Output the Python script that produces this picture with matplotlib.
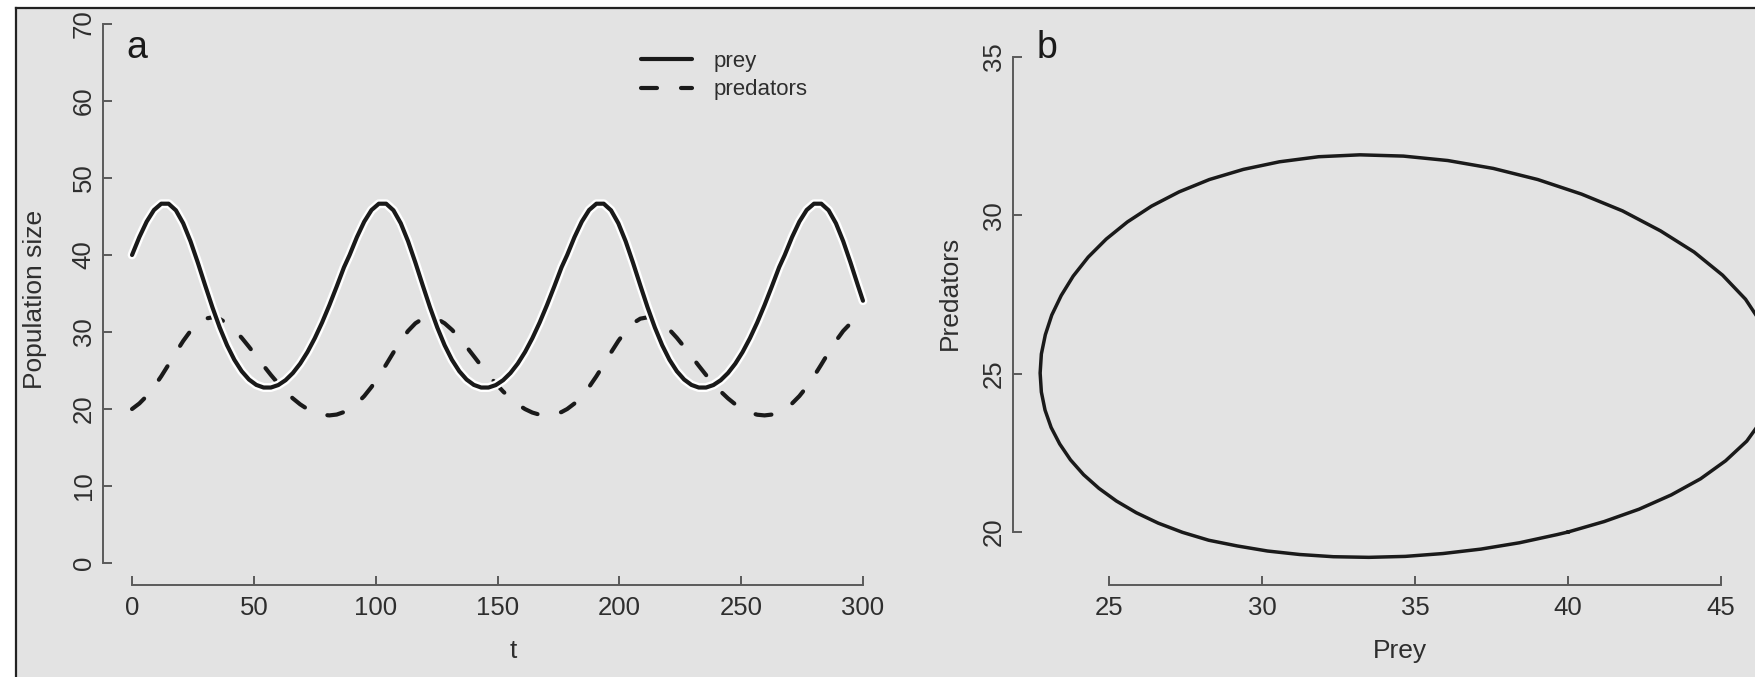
import matplotlib
matplotlib.use("Agg")
import matplotlib.pyplot as plt
import matplotlib.patheffects as pe
from matplotlib.lines import Line2D
from matplotlib.patches import Rectangle

plt.rcParams['font.family'] = ['Liberation Sans', 'DejaVu Sans']
plt.rcParams['lines.scale_dashes'] = False

W, H = 1755, 677
BG = '#e3e3e3'
INK = '#1a1a1a'
AXC = '#5a5a5a'
TXT = '#2e2e2e'

# panel a: time points (about 30 samples per cycle)
t = [0, 3, 6, 9, 12, 15, 18, 21, 24, 27, 30, 33, 36, 39, 42, 45, 48, 51, 54, 57,
     60, 63, 66, 69, 72, 75, 78, 81, 84, 87,
     89.3, 92.3, 95.3, 98.3, 101.3, 104.3, 107.3, 110.3, 113.3, 116.3, 119.3, 122.3,
     125.3, 128.3, 131.3, 134.3, 137.3, 140.3, 143.3, 146.3, 149.3, 152.3, 155.3,
     158.3, 161.3, 164.3, 167.3, 170.3, 173.3, 176.3,
     178.6, 181.6, 184.6, 187.6, 190.6, 193.6, 196.6, 199.6, 202.6, 205.6, 208.6,
     211.6, 214.6, 217.6, 220.6, 223.6, 226.6, 229.6, 232.6, 235.6, 238.6, 241.6,
     244.6, 247.6, 250.6, 253.6, 256.6, 259.6, 262.6, 265.6,
     267.9, 270.9, 273.9, 276.9, 279.9, 282.9, 285.9, 288.9, 291.9, 294.9, 297.9, 300]

prey = [40.0, 42.32, 44.33, 45.84, 46.66, 46.66, 45.80, 44.12, 41.78, 39.01, 36.07,
        33.20, 30.57, 28.28, 26.39, 24.91, 23.83, 23.13, 22.79, 22.79, 23.11, 23.74,
        24.67, 25.89, 27.40, 29.19, 31.23, 33.49, 35.91, 38.41,
        40.0, 42.32, 44.33, 45.84, 46.66, 46.66, 45.80, 44.12, 41.78, 39.01, 36.07,
        33.20, 30.57, 28.28, 26.39, 24.91, 23.83, 23.13, 22.79, 22.79, 23.11, 23.74,
        24.67, 25.89, 27.40, 29.19, 31.23, 33.49, 35.91, 38.41,
        40.0, 42.32, 44.33, 45.84, 46.66, 46.66, 45.80, 44.12, 41.78, 39.01, 36.07,
        33.20, 30.57, 28.28, 26.39, 24.91, 23.83, 23.13, 22.79, 22.79, 23.11, 23.74,
        24.67, 25.89, 27.40, 29.19, 31.23, 33.49, 35.91, 38.41,
        40.0, 42.32, 44.33, 45.84, 46.66, 46.66, 45.80, 44.12, 41.78, 39.01, 36.07,
        34.06]

predators = [20.0, 20.72, 21.68, 22.87, 24.26, 25.78, 27.35, 28.84, 30.14, 31.13, 31.73,
             31.91, 31.69, 31.13, 30.29, 29.25, 28.08, 26.85, 25.62, 24.42, 23.30, 22.28,
             21.38, 20.61, 19.99, 19.54, 19.26, 19.17, 19.28, 19.61,
             20.0, 20.72, 21.68, 22.87, 24.26, 25.78, 27.35, 28.84, 30.14, 31.13, 31.73,
             31.91, 31.69, 31.13, 30.29, 29.25, 28.08, 26.85, 25.62, 24.42, 23.30, 22.28,
             21.38, 20.61, 19.99, 19.54, 19.26, 19.17, 19.28, 19.61,
             20.0, 20.72, 21.68, 22.87, 24.26, 25.78, 27.35, 28.84, 30.14, 31.13, 31.73,
             31.91, 31.69, 31.13, 30.29, 29.25, 28.08, 26.85, 25.62, 24.42, 23.30, 22.28,
             21.38, 20.61, 19.99, 19.54, 19.26, 19.17, 19.28, 19.61,
             20.0, 20.72, 21.68, 22.87, 24.26, 25.78, 27.35, 28.84, 30.14, 31.13, 31.73,
             31.85]

# panel b: one closed orbit, read more densely so the loop stays round
loop_prey = [40.0, 41.18, 42.32, 43.37, 44.33, 45.15, 45.84, 46.34, 46.66, 46.77,
             46.66, 46.34, 45.80, 45.05, 44.12, 43.02, 41.78, 40.44, 39.01, 37.56,
             36.07, 34.62, 33.20, 31.85, 30.57, 29.39, 28.28, 27.29, 26.39, 25.60,
             24.91, 24.32, 23.83, 23.44, 23.13, 22.92, 22.79, 22.75, 22.79, 22.91,
             23.11, 23.39, 23.74, 24.17, 24.67, 25.24, 25.89, 26.61, 27.40, 28.26,
             29.19, 30.18, 31.23, 32.33, 33.49, 34.68, 35.91, 37.15, 38.41, 39.65, 40.0]
loop_pred = [20.0, 20.33, 20.72, 21.17, 21.68, 22.25, 22.87, 23.54, 24.26, 25.00,
             25.78, 26.56, 27.35, 28.11, 28.84, 29.51, 30.14, 30.67, 31.13, 31.48,
             31.73, 31.87, 31.91, 31.85, 31.69, 31.45, 31.13, 30.74, 30.29, 29.79,
             29.25, 28.68, 28.08, 27.47, 26.85, 26.23, 25.62, 25.02, 24.42, 23.85,
             23.30, 22.78, 22.28, 21.81, 21.38, 20.98, 20.61, 20.28, 19.99, 19.74,
             19.56, 19.40, 19.29, 19.22, 19.20, 19.23, 19.32, 19.46, 19.66, 19.92, 20.0]

t_ticks = [0, 50, 100, 150, 200, 250, 300]
pop_ticks = [0, 10, 20, 30, 40, 50, 60, 70]
prey_ticks = [25, 30, 35, 40, 45]
pred_ticks = [20, 25, 30, 35]


def box(left, top, right, bottom):
    # pixel box -> figure fraction
    return [left / W, 1 - bottom / H, (right - left) / W, (bottom - top) / H]


def style(ax, xt, yt):
    ax.set_facecolor('none')
    ax.spines['top'].set_visible(False)
    ax.spines['right'].set_visible(False)
    for s in ('left', 'bottom'):
        ax.spines[s].set_color(AXC)
        ax.spines[s].set_linewidth(1.4)
    ax.spines['bottom'].set_bounds(xt[0], xt[-1])
    ax.spines['left'].set_bounds(yt[0], yt[-1])
    ax.set_xticks(xt)
    ax.set_yticks(yt)
    ax.tick_params(direction='in', length=6.5, width=1.4, color=AXC,
                   labelcolor=TXT, labelsize=18.5)
    ax.tick_params(axis='x', pad=8)
    ax.tick_params(axis='y', pad=5, labelrotation=90)
    for lab in ax.get_yticklabels():
        lab.set_va('center')


fig = plt.figure(figsize=(W / 100, H / 100), dpi=100)
fig.patch.set_facecolor('white')
fig.add_artist(Rectangle((16 / W, 0), 1 - 16 / W, 1 - 8 / H, transform=fig.transFigure,
                         facecolor=BG, edgecolor='none', zorder=-10))
fig.add_artist(Line2D([16 / W, 16 / W], [0, 1 - 8 / H], color='#222222', lw=1.6,
                      transform=fig.transFigure))
fig.add_artist(Line2D([16 / W, 1], [1 - 8 / H, 1 - 8 / H], color='#222222', lw=1.6,
                      transform=fig.transFigure))

# ---- panel a: time series
ax_a = fig.add_axes(box(102.8, 2.4, 892.2, 584.6))
ax_a.plot(t, predators, color=INK, lw=3, dashes=(11.5, 17.3), dash_capstyle='round')
ax_a.plot(t, prey, color=INK, lw=3, solid_capstyle='round', solid_joinstyle='round',
          path_effects=[pe.Stroke(linewidth=6.4, foreground='white'), pe.Normal()])
ax_a.set_xlim(-12, 312)
ax_a.set_ylim(-2.8, 72.8)
style(ax_a, t_ticks, pop_ticks)

handles = [Line2D([], [], color=INK, lw=3, solid_capstyle='round'),
           Line2D([], [], color=INK, lw=3, dashes=(11.5, 17.3), dash_capstyle='round')]
ax_a.legend(handles, ['prey', 'predators'], loc='upper left',
            bbox_to_anchor=(641 / W, 1 - 51 / H), bbox_transform=fig.transFigure,
            frameon=False, fontsize=16, handlelength=2.3, handletextpad=0.95,
            labelspacing=0.33, borderpad=0, borderaxespad=0, labelcolor=TXT)

# ---- panel b: phase plane
ax_b = fig.add_axes(box(1012.9, 25.3, 1809.8, 584.9))
ax_b.plot(loop_prey, loop_pred, color=INK, lw=2.5, solid_joinstyle='round')
ax_b.set_xlim(21.86, 47.9)
ax_b.set_ylim(18.33, 36.0)
style(ax_b, prey_ticks, pred_ticks)

# labels
fig.text(35 / W, 1 - 299 / H, 'Population size', rotation=90, ha='center', va='center',
         fontsize=19, color=TXT)
fig.text(513 / W, 1 - 658 / H, 't', ha='center', va='baseline', fontsize=19, color=TXT)
fig.text(950 / W, 1 - 293 / H, 'Predators', rotation=90, ha='center', va='center',
         fontsize=19, color=TXT)
fig.text(1400 / W, 1 - 658 / H, 'Prey', ha='center', va='baseline', fontsize=19, color=TXT)
fig.text(126 / W, 1 - 58 / H, 'a', ha='left', va='baseline', fontsize=27, color=INK)
fig.text(1037 / W, 1 - 58 / H, 'b', ha='left', va='baseline', fontsize=27, color=INK)

fig.savefig('out.png', dpi=100)
